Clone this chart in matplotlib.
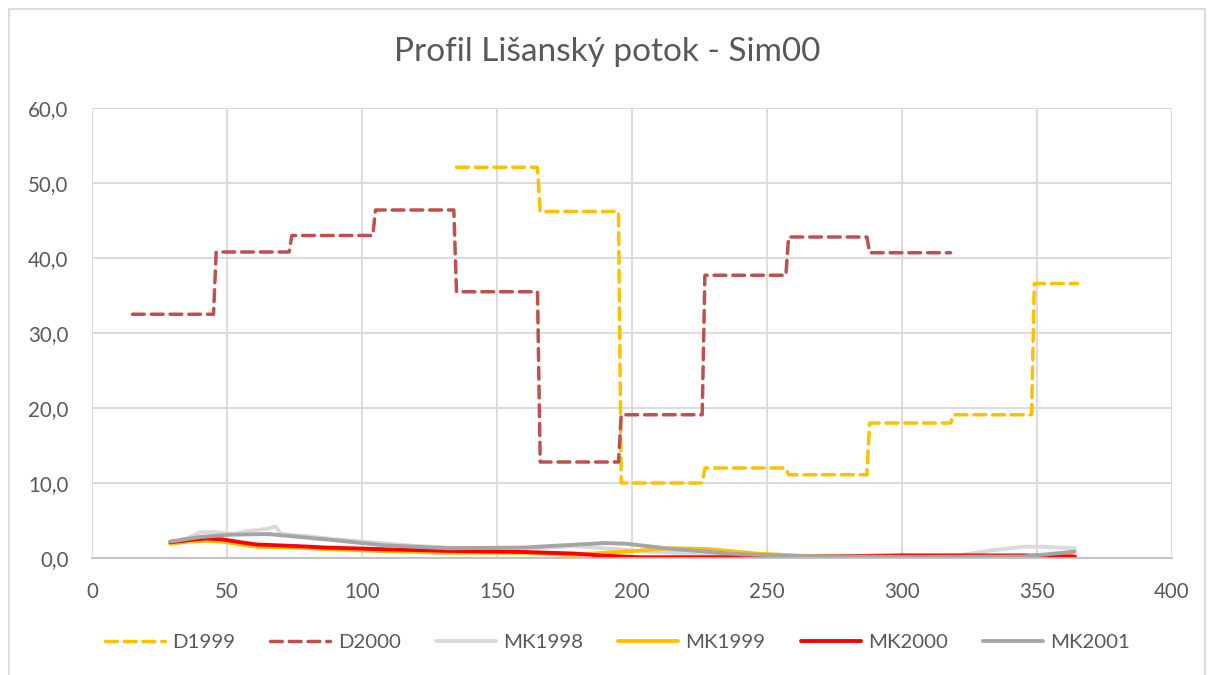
import matplotlib
matplotlib.use("Agg")
import matplotlib.pyplot as plt
from matplotlib.patches import Rectangle
from matplotlib.ticker import FuncFormatter

plt.rcParams['font.family'] = ['Lato', 'DejaVu Sans']

# ---- data ----
title = "Profil Lišanský potok - Sim00"

d1999_breaks = [135, 165, 195, 226, 257, 287, 318, 348, 365]
d1999_vals = [52.1, 46.2, 10.0, 12.0, 11.1, 18.0, 19.1, 36.6]

d2000_breaks = [15, 45, 73, 104, 134, 165, 195, 226, 257, 287, 318]
d2000_vals = [32.5, 40.8, 43.0, 46.4, 35.5, 12.8, 19.1, 37.7, 42.8, 40.7]

mk1998_x = [29, 35, 40, 45, 50, 52, 58, 65, 68, 70, 80, 90, 100, 110, 120, 132,
            150, 165, 178, 190, 203, 215, 228, 240, 262, 290, 320, 333, 345, 352, 364]
mk1998_y = [2.0, 2.6, 3.4, 3.5, 3.3, 3.2, 3.6, 3.9, 4.2, 3.2, 2.9, 2.5, 2.2, 1.9, 1.6, 1.4,
            1.3, 1.3, 1.6, 1.3, 0.9, 0.7, 0.5, 0.4, 0.2, 0.2, 0.3, 1.0, 1.5, 1.5, 1.3]

mk1999_x = [29, 36, 42, 48, 55, 61, 75, 86, 110, 132, 160, 178, 190, 203, 215, 228,
            246, 262, 300, 364]
mk1999_y = [1.9, 2.2, 2.3, 2.2, 1.8, 1.5, 1.4, 1.2, 0.9, 0.7, 0.7, 0.4, 0.7, 1.0, 1.3, 1.2,
            0.6, 0.3, 0.2, 0.2]

mk2000_x = [29, 36, 42, 48, 55, 61, 75, 86, 110, 132, 160, 178, 190, 203, 230, 260,
            300, 345, 364]
mk2000_y = [2.1, 2.4, 2.6, 2.5, 2.1, 1.8, 1.6, 1.4, 1.15, 0.95, 0.8, 0.6, 0.3, 0.1, 0.1, 0.15,
            0.35, 0.35, 0.2]

mk2001_x = [29, 40, 51, 65, 71, 89, 108, 132, 160, 180, 190, 198, 215, 240, 262, 300, 345, 364]
mk2001_y = [2.2, 2.8, 3.1, 3.2, 3.0, 2.4, 1.7, 1.3, 1.4, 1.8, 2.0, 1.9, 1.2, 0.5, 0.25, 0.15,
            0.2, 0.85]

x_ticks = [0, 50, 100, 150, 200, 250, 300, 350, 400]
y_ticks = [0, 10, 20, 30, 40, 50, 60]


def step_line(breaks, vals):
    xs, ys = [], []
    for i, v in enumerate(vals):
        start = breaks[i] if i == 0 else breaks[i] + 1
        xs += [start, breaks[i + 1]]
        ys += [v, v]
    return xs, ys


fig = plt.figure(figsize=(12.14, 6.75), dpi=100)
ax = fig.add_axes([92 / 1214, 1 - 558 / 675, (1172 - 92) / 1214, (558 - 108) / 675])

text_col = '#595959'
grid_col = '#d9d9d9'

dash = dict(linestyle=(0, (3.4, 2.0)), dash_capstyle='round', lw=2.5)
x, y = step_line(d1999_breaks, d1999_vals)
ax.plot(x, y, color='#FFC000', label='D1999', **dash)
x, y = step_line(d2000_breaks, d2000_vals)
ax.plot(x, y, color='#C0504D', label='D2000', **dash)

solid = dict(lw=2.8, solid_capstyle='round', solid_joinstyle='round')
ax.plot(mk1998_x, mk1998_y, color='#D9D9D9', label='MK1998', **solid)
ax.plot(mk1999_x, mk1999_y, color='#FFC000', label='MK1999', **solid)
ax.plot(mk2000_x, mk2000_y, color='#FF0000', label='MK2000', **solid)
ax.plot(mk2001_x, mk2001_y, color='#A5A5A5', label='MK2001', **solid)

ax.set_xlim(0, 400)
ax.set_ylim(0, 60)
ax.set_xticks(x_ticks)
ax.set_yticks(y_ticks)
ax.yaxis.set_major_formatter(FuncFormatter(lambda v, p: f"{v:.1f}".replace('.', ',')))
ax.grid(True, color=grid_col, lw=1.3)
ax.set_axisbelow(True)
for s in ax.spines.values():
    s.set_visible(False)
ax.spines['bottom'].set_visible(True)
ax.spines['bottom'].set_color('#bfbfbf')
ax.spines['bottom'].set_linewidth(1.3)
ax.tick_params(length=0, labelsize=14.8, colors=text_col, pad=17)
ax.tick_params(axis='x', pad=17)

fig.text(0.5, 1 - 52 / 675, title, ha='center', va='center', fontsize=24, color=text_col)

leg = fig.legend(loc='center', bbox_to_anchor=(617.5 / 1214, 1 - 642 / 675), ncol=6, frameon=False,
                 fontsize=14.7, handlelength=2.95, columnspacing=1.72, handletextpad=0.35)
for t in leg.get_texts():
    t.set_color(text_col)

fig.patches.append(Rectangle((9 / 1214, -0.01), (1205 - 9) / 1214, 1 - 9 / 675 + 0.01,
                             transform=fig.transFigure, fill=False, edgecolor=grid_col, lw=1.3))

fig.savefig('out.png', dpi=100)
